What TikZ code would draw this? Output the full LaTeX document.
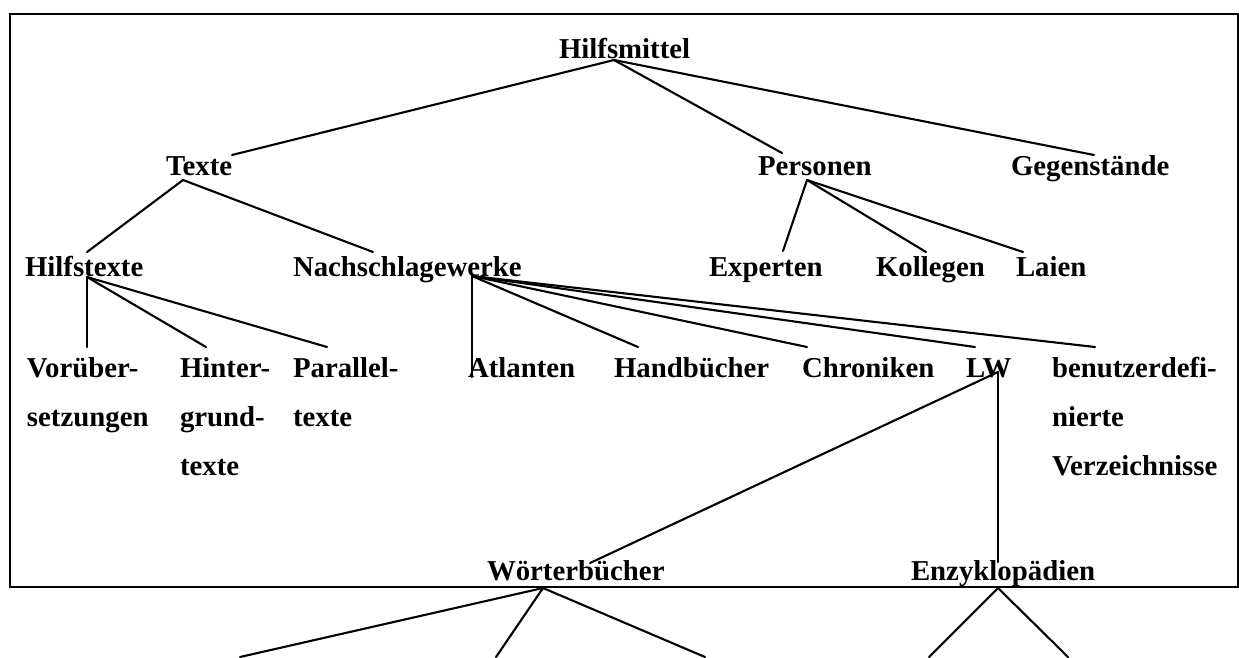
\documentclass[tikz,border=0pt]{standalone}
\usepackage{fontspec}
\setmainfont{Liberation Serif}
\begin{document}
\begin{tikzpicture}[x=1pt,y=-1pt,
  lbl/.style={anchor=base west,inner sep=0pt,outer sep=0pt,align=left,
    font=\fontsize{28.8}{49}\selectfont\bfseries},
  edge/.style={line width=2.1pt,line cap=round},
  frame/.style={line width=2.8pt}]
\useasboundingbox (0,0) rectangle (1239,657);
\clip (0,0) rectangle (1239,657);

% outer frame
\draw[frame] (10,14) rectangle (1238,587);

% labels (multi-line labels sit on the baseline of their last line)
\node[lbl] (hm) at (559,58) {Hilfsmittel};
\node[lbl] (texte) at (166,175) {Texte};
\node[lbl] (personen) at (758,175) {Personen};
\node[lbl] (gegen) at (1011,175) {Gegenstände};
\node[lbl] (hilfstexte) at (25,276) {Hilfstexte};
\node[lbl] (nachschlag) at (293,276) {Nachschlagewerke};
\node[lbl] (experten) at (709,276) {Experten};
\node[lbl] (kollegen) at (876,276) {Kollegen};
\node[lbl] (laien) at (1016,276) {Laien};
\node[lbl] (vorueber) at (27,426) {Vorüber-\\setzungen};
\node[lbl] (hinter) at (180,475) {Hinter-\\grund-\\texte};
\node[lbl] (parallel) at (293,426) {Parallel-\\texte};
\node[lbl] (atlanten) at (468,377) {Atlanten};
\node[lbl] (handb) at (614,377) {Handbücher};
\node[lbl] (chron) at (802,377) {Chroniken};
\node[lbl] (lw) at (966,377) {LW};
\node[lbl] (benutzer) at (1052,475) {benutzerdefi-\\nierte\\Verzeichnisse};
\node[lbl] (woerter) at (487,580) {Wörterbücher};
\node[lbl] (enzy) at (911,580) {Enzyklopädien};

% connection points on the labels
\path (hm.base west) ++(55,2) coordinate (hm-o);
\path (texte.base west) ++(66,-20) coordinate (texte-i);
\path (texte.base west) ++(17,5) coordinate (texte-o);
\path (personen.base west) ++(24,-22) coordinate (personen-i);
\path (personen.base west) ++(49,5) coordinate (personen-o);
\path (gegen.base west) ++(83,-20) coordinate (gegen-i);
\path (hilfstexte.base west) ++(62,-24) coordinate (hilfstexte-i);
\path (hilfstexte.base west) ++(62,1) coordinate (hilfstexte-o);
\path (nachschlag.base west) ++(80,-24) coordinate (nachschlag-i);
\path (nachschlag.base west) ++(179,0) coordinate (nachschlag-o);
\path (experten.base west) ++(74,-25) coordinate (experten-i);
\path (kollegen.base west) ++(50,-24) coordinate (kollegen-i);
\path (laien.base west) ++(7,-24) coordinate (laien-i);
\path (vorueber.base west) ++(60,-79) coordinate (vorueber-i);
\path (hinter.base west) ++(26,-128) coordinate (hinter-i);
\path (parallel.base west) ++(34,-79) coordinate (parallel-i);
\path (atlanten.base west) ++(4,0) coordinate (atlanten-i);
\path (handb.base west) ++(24,-30) coordinate (handb-i);
\path (chron.base west) ++(5,-30) coordinate (chron-i);
\path (lw.base west) ++(9,-30) coordinate (lw-i);
\path (lw.base west) ++(32,-5) coordinate (lw-o);
\path (benutzer.base west) ++(43,-128) coordinate (benutzer-i);
\path (woerter.base west) ++(103,-17) coordinate (woerter-i);
\path (woerter.base west) ++(56,8) coordinate (woerter-o);
\path (enzy.base west) ++(87,-18) coordinate (enzy-i);
\path (enzy.base west) ++(87,8) coordinate (enzy-o);

% branches leaving the lower edge
\coordinate (w-a) at (240,657);
\coordinate (w-b) at (496,657);
\coordinate (w-c) at (705,657);
\coordinate (e-a) at (929,657);
\coordinate (e-b) at (1068,657);

% tree connectors
\draw[edge] (hm-o) -- (texte-i);
\draw[edge] (hm-o) -- (personen-i);
\draw[edge] (hm-o) -- (gegen-i);
\draw[edge] (texte-o) -- (hilfstexte-i);
\draw[edge] (texte-o) -- (nachschlag-i);
\draw[edge] (personen-o) -- (experten-i);
\draw[edge] (personen-o) -- (kollegen-i);
\draw[edge] (personen-o) -- (laien-i);
\draw[edge] (hilfstexte-o) -- (vorueber-i);
\draw[edge] (hilfstexte-o) -- (hinter-i);
\draw[edge] (hilfstexte-o) -- (parallel-i);
\draw[edge] (nachschlag-o) -- (atlanten-i);
\draw[edge] (nachschlag-o) -- (handb-i);
\draw[edge] (nachschlag-o) -- (chron-i);
\draw[edge] (nachschlag-o) -- (lw-i);
\draw[edge] (nachschlag-o) -- (benutzer-i);
\draw[edge] (lw-o) -- (woerter-i);
\draw[edge] (lw-o) -- (enzy-i);
\draw[edge] (woerter-o) -- (w-a);
\draw[edge] (woerter-o) -- (w-b);
\draw[edge] (woerter-o) -- (w-c);
\draw[edge] (enzy-o) -- (e-a);
\draw[edge] (enzy-o) -- (e-b);
\end{tikzpicture}
\end{document}
